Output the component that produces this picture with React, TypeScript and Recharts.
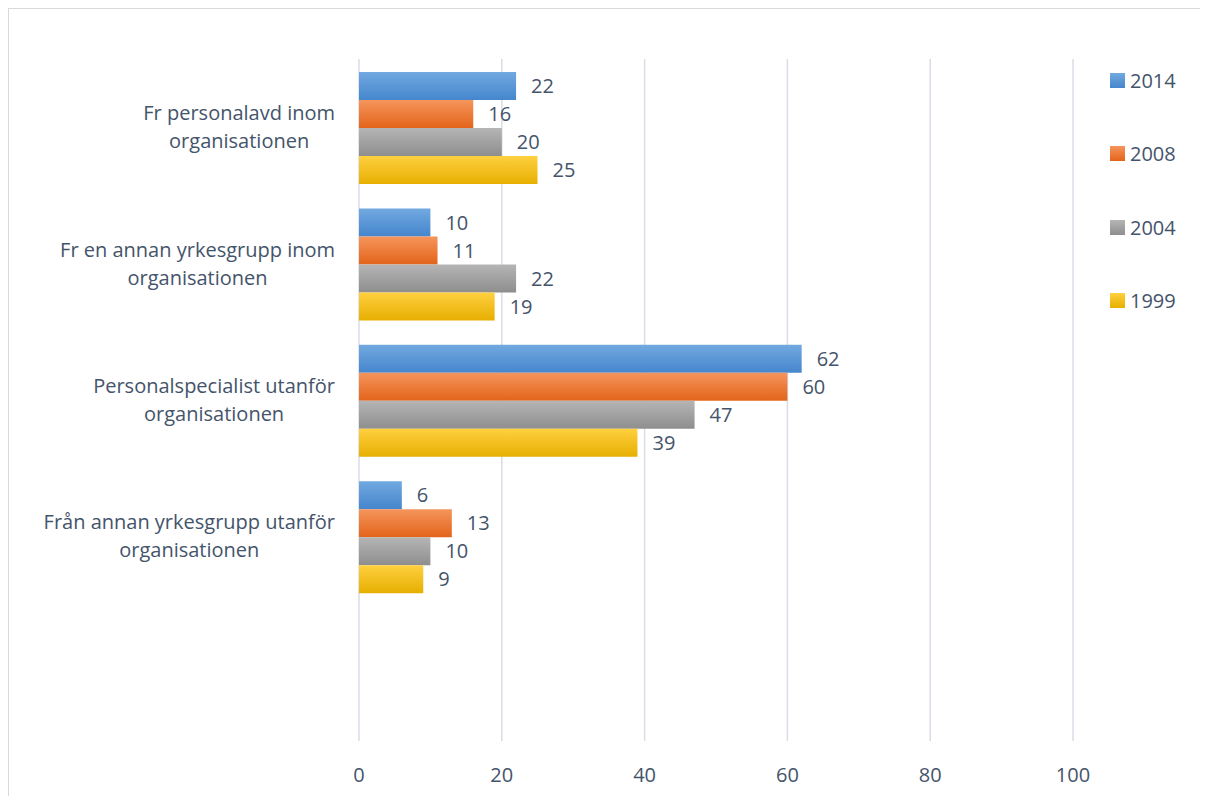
import * as React from 'react';
import { Bar, BarChart, CartesianGrid, LabelList, Legend, XAxis, YAxis } from 'recharts';

// Categories (last one is an empty slot, as in the original chart)
const categories = [
    'Fr personalavd inom\norganisationen',
    'Fr en annan yrkesgrupp inom\norganisationen',
    'Personalspecialist utanför\norganisationen',
    'Från annan yrkesgrupp utanför\norganisationen',
    '',
];

const values2014 = [22, 10, 62, 6, null];
const values2008 = [16, 11, 60, 13, null];
const values2004 = [20, 22, 47, 10, null];
const values1999 = [25, 19, 39, 9, null];

const xTicks = [0, 20, 40, 60, 80, 100];

const series = [
    { key: 'y2014', name: '2014', values: values2014, top: '#72a9e0', bottom: '#4586cd' },
    { key: 'y2008', name: '2008', values: values2008, top: '#f5955c', bottom: '#e3641a' },
    { key: 'y2004', name: '2004', values: values2004, top: '#b5b5b5', bottom: '#8e8e8e' },
    { key: 'y1999', name: '1999', values: values1999, top: '#ffd040', bottom: '#e6af00' },
];

const chartData = categories.map((cat, i) => {
    const row: Record<string, string | number | null> = { cat };
    series.forEach((s) => {
        row[s.key] = s.values[i];
    });
    return row;
});

const FONT = '"Open Sans", sans-serif';
const FONT_SIZE = 20;
const TEXT = '#44546a';

// measure text so the label block can be right-aligned with centered lines
let measureCtx: CanvasRenderingContext2D | null = null;
function textWidth(s: string) {
    if (!measureCtx) measureCtx = document.createElement('canvas').getContext('2d');
    if (!measureCtx) return s.length * 10;
    measureCtx.font = `${FONT_SIZE}px "Open Sans"`;
    return measureCtx.measureText(s).width;
}

function CategoryTick({ x, y, payload }: any) {
    const lines = String(payload.value).split('\n');
    const lineH = 28;
    const maxW = Math.max(...lines.map(textWidth));
    const right = x - 16;
    const cx = right - maxW / 2;
    const start = y - ((lines.length - 1) * lineH) / 2;
    return (
        <text x={cx} y={start} textAnchor="middle" fill={TEXT} fontSize={FONT_SIZE} fontFamily={FONT}>
            {lines.map((l, i) => (
                <tspan key={i} x={cx} y={start + i * lineH} dy="0.35em">
                    {l}
                </tspan>
            ))}
        </text>
    );
}

function LegendContent() {
    return (
        <div style={{ fontFamily: FONT, fontSize: FONT_SIZE, color: TEXT }}>
            {series.map((s) => (
                <div key={s.key} style={{ height: 73.3, display: 'flex', alignItems: 'center' }}>
                    <span
                        style={{
                            display: 'inline-block',
                            width: 15,
                            height: 15,
                            marginRight: 5,
                            background: `linear-gradient(${s.top}, ${s.bottom})`,
                        }}
                    />
                    <span>{s.name}</span>
                </div>
            ))}
        </div>
    );
}

export default function App() {
    return (
        <div
            style={{
                width: 1260,
                height: 830,
                boxSizing: 'border-box',
                borderTop: '1px solid #d9d9d9',
                borderLeft: '1px solid #d9d9d9',
                background: '#fff',
            }}
        >
            <style>{'html { overflow: hidden; }'}</style>
            <BarChart
                width={1199}
                height={787}
                data={chartData}
                layout="vertical"
                margin={{ top: 50, right: 40, left: 0, bottom: 5 }}
                barCategoryGap={13}
                barGap={0}
            >
                <defs>
                    {series.map((s) => (
                        <linearGradient key={s.key} id={`grad-${s.key}`} x1="0" y1="0" x2="0" y2="1">
                            <stop offset="0%" stopColor={s.top} />
                            <stop offset="100%" stopColor={s.bottom} />
                        </linearGradient>
                    ))}
                </defs>
                <CartesianGrid vertical horizontal={false} stroke="#d9dde6" strokeWidth={1.5} />
                <XAxis
                    type="number"
                    domain={[0, 100]}
                    ticks={xTicks}
                    axisLine={false}
                    tickLine={false}
                    tickMargin={21}
                    height={50}
                    tick={{ fill: TEXT, fontSize: FONT_SIZE, fontFamily: FONT }}
                />
                <YAxis
                    type="category"
                    dataKey="cat"
                    width={350}
                    axisLine={false}
                    tickLine={false}
                    interval={0}
                    tick={<CategoryTick />}
                />
                <Legend
                    layout="vertical"
                    align="right"
                    verticalAlign="top"
                    content={<LegendContent />}
                    wrapperStyle={{ left: 1101, top: 35, width: 95 }}
                />
                {series.map((s) => (
                    <Bar key={s.key} dataKey={s.key} name={s.name} fill={`url(#grad-${s.key})`} isAnimationActive={false}>
                        <LabelList
                            dataKey={s.key}
                            position="right"
                            offset={15}
                            fill={TEXT}
                            fontSize={FONT_SIZE}
                            fontFamily={FONT}
                        />
                    </Bar>
                ))}
            </BarChart>
        </div>
    );
}
